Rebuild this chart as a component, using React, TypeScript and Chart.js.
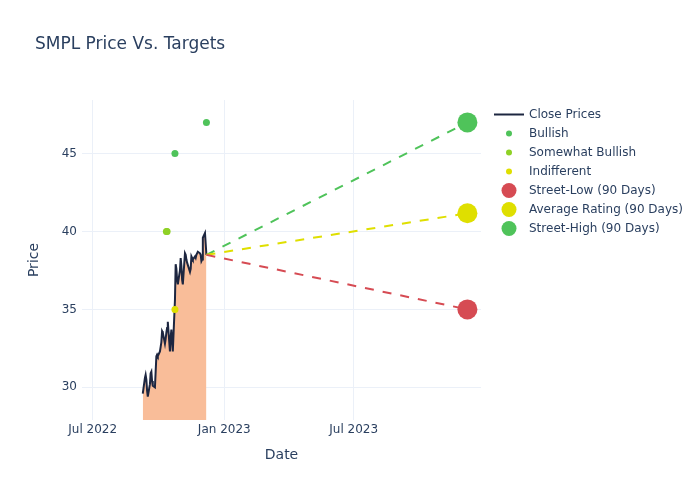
import { useEffect, useRef } from 'react';
import { Chart, registerables } from 'chart.js';
import type { Plugin } from 'chart.js';

Chart.register(...registerables);

// closing prices (trading days)
const closeDates = [
  '2022-09-09', '2022-09-12', '2022-09-13', '2022-09-14', '2022-09-15', '2022-09-16',
  '2022-09-19', '2022-09-20', '2022-09-21', '2022-09-22', '2022-09-23',
  '2022-09-26', '2022-09-27', '2022-09-28', '2022-09-29', '2022-09-30',
  '2022-10-03', '2022-10-04', '2022-10-05', '2022-10-06', '2022-10-07',
  '2022-10-10', '2022-10-11', '2022-10-12', '2022-10-13', '2022-10-14',
  '2022-10-17', '2022-10-18', '2022-10-19', '2022-10-20', '2022-10-21',
  '2022-10-24', '2022-10-25', '2022-10-26', '2022-10-27', '2022-10-28',
  '2022-10-31', '2022-11-01', '2022-11-02', '2022-11-03', '2022-11-04',
  '2022-11-07', '2022-11-08', '2022-11-09', '2022-11-10', '2022-11-11',
  '2022-11-14', '2022-11-15', '2022-11-16', '2022-11-17', '2022-11-18',
  '2022-11-21', '2022-11-22', '2022-11-23', '2022-11-25',
  '2022-11-28', '2022-11-29', '2022-11-30', '2022-12-01', '2022-12-02',
  '2022-12-05', '2022-12-06', '2022-12-07',
];
const closePrices = [
  29.6, 30.6, 30.8, 30.5, 29.8, 29.4,
  30.2, 30.9, 31.0, 30.4, 30.1,
  30.0, 31.0, 32.0, 32.1, 32.0,
  32.3, 32.6, 32.9, 33.6, 33.5,
  32.8, 33.1, 33.5, 33.8, 34.2,
  32.3, 33.2, 33.7, 33.0, 32.3,
  35.6, 37.9, 37.6, 36.9, 36.6,
  37.5, 38.3, 37.8, 36.9, 36.6,
  38.6, 38.5, 38.2, 38.0, 38.0,
  37.4, 37.6, 38.4, 38.3, 38.2,
  38.4, 38.3, 38.5, 38.7,
  38.6, 38.5, 38.1, 38.2, 39.6,
  39.9, 39.2, 38.5,
];

// analyst ratings
const bullishDates = ['2022-10-24', '2022-12-07'];
const bullishTargets = [45, 47];
const somewhatBullishDates = ['2022-10-12', '2022-10-13'];
const somewhatBullishTargets = [40, 40];
const indifferentDates = ['2022-10-24'];
const indifferentTargets = [35];

// 90 day street targets
const targetDate = '2023-12-07';
const streetLow = 35;
const averageRating = 41.17;
const streetHigh = 47;

const xTickDates = ['2022-07-01', '2023-01-01', '2023-07-01'];
const xTickLabels = ['Jul 2022', 'Jan 2023', 'Jul 2023'];
const yTicks = [30, 35, 40, 45];

const TEXT = '#2a3f5f';
const FONT = "'DejaVu Sans', sans-serif";
const GREEN = '#4fc35a';
const LIGHT_GREEN = '#8fd126';
const YELLOW = '#dfdf00';
const RED = '#d64b53';
const ORANGE_FILL = '#f9bd99';
const NAVY = '#1d2640';

const toMs = (d: string) => Date.parse(d + 'T00:00:00Z');

type LegendItem = { label: string; kind: 'line' | 'dot'; color: string; r: number };
const legendItems: LegendItem[] = [
  { label: 'Close Prices', kind: 'line', color: NAVY, r: 0 },
  { label: 'Bullish', kind: 'dot', color: GREEN, r: 3 },
  { label: 'Somewhat Bullish', kind: 'dot', color: LIGHT_GREEN, r: 3 },
  { label: 'Indifferent', kind: 'dot', color: YELLOW, r: 3 },
  { label: 'Street-Low (90 Days)', kind: 'dot', color: RED, r: 7.5 },
  { label: 'Average Rating (90 Days)', kind: 'dot', color: YELLOW, r: 7.5 },
  { label: 'Street-High (90 Days)', kind: 'dot', color: GREEN, r: 7.5 },
];

// title and legend drawn at fixed spots, like the plotly layout
const decorPlugin: Plugin = {
  id: 'decor',
  afterDraw(chart) {
    const ctx = chart.ctx;
    ctx.save();
    ctx.fillStyle = TEXT;
    ctx.textBaseline = 'middle';
    ctx.textAlign = 'left';
    ctx.font = `17px ${FONT}`;
    ctx.fillText('SMPL Price Vs. Targets', 35, 45);

    ctx.font = `12px ${FONT}`;
    legendItems.forEach((item, i) => {
      const y = 114.5 + i * 19;
      if (item.kind === 'line') {
        ctx.strokeStyle = item.color;
        ctx.lineWidth = 2;
        ctx.beginPath();
        ctx.moveTo(494, y);
        ctx.lineTo(524, y);
        ctx.stroke();
      } else {
        ctx.fillStyle = item.color;
        ctx.beginPath();
        ctx.arc(509, y, item.r, 0, Math.PI * 2);
        ctx.fill();
      }
      ctx.fillStyle = TEXT;
      ctx.fillText(item.label, 529, y);
    });
    ctx.restore();
  },
};

export default function App() {
  const canvasRef = useRef<HTMLCanvasElement>(null);

  useEffect(() => {
    if (!canvasRef.current) return;
    document.body.style.margin = '0';

    const closeData = closeDates.map((d, i) => ({ x: toMs(d), y: closePrices[i] }));
    const last = closeData[closeData.length - 1];
    const tx = toMs(targetDate);
    const pts = (dates: string[], vals: number[]) => dates.map((d, i) => ({ x: toMs(d), y: vals[i] }));

    const dashed = (color: string, target: number) => ({
      data: [{ x: last.x, y: last.y }, { x: tx, y: target }],
      showLine: true,
      borderColor: color,
      borderWidth: 2,
      borderDash: [9, 9],
      pointRadius: 0,
      order: 3,
    });
    const bigDot = (color: string, target: number) => ({
      data: [{ x: tx, y: target }],
      backgroundColor: color,
      borderWidth: 0,
      pointRadius: 10,
      order: 1,
    });
    const smallDot = (color: string, dates: string[], vals: number[]) => ({
      data: pts(dates, vals),
      backgroundColor: color,
      borderWidth: 0,
      pointRadius: 3.5,
      order: 5,
    });

    const chart = new Chart(canvasRef.current, {
      type: 'scatter',
      data: {
        datasets: [
          {
            label: 'Close Prices',
            data: closeData,
            showLine: true,
            borderColor: NAVY,
            borderWidth: 2,
            backgroundColor: ORANGE_FILL,
            fill: 'start',
            pointRadius: 0,
            order: 10,
          },
          { label: 'Bullish', ...smallDot(GREEN, bullishDates, bullishTargets) },
          { label: 'Somewhat Bullish', ...smallDot(LIGHT_GREEN, somewhatBullishDates, somewhatBullishTargets) },
          { label: 'Indifferent', ...smallDot(YELLOW, indifferentDates, indifferentTargets) },
          { label: 'low line', ...dashed(RED, streetLow) },
          { label: 'avg line', ...dashed(YELLOW, averageRating) },
          { label: 'high line', ...dashed(GREEN, streetHigh) },
          { label: 'Street-Low (90 Days)', ...bigDot(RED, streetLow) },
          { label: 'Average Rating (90 Days)', ...bigDot(YELLOW, averageRating) },
          { label: 'Street-High (90 Days)', ...bigDot(GREEN, streetHigh) },
        ] as any,
      },
      options: {
        animation: false,
        responsive: true,
        maintainAspectRatio: false,
        layout: { padding: { top: 100, right: 219, left: 0, bottom: 0 } },
        plugins: {
          legend: { display: false },
          title: { display: false },
          tooltip: { enabled: false },
        },
        scales: {
          x: {
            type: 'linear',
            min: toMs('2022-06-16'),
            max: toMs('2023-12-26'),
            afterBuildTicks: (s: any) => {
              s.ticks = xTickDates.map(d => ({ value: toMs(d) }));
            },
            afterFit: (s: any) => {
              s.height = 80;
            },
            grid: { color: '#ebf0f8', lineWidth: 1, drawTicks: false },
            border: { display: false },
            ticks: {
              color: TEXT,
              font: { family: FONT, size: 12 },
              padding: 3,
              maxRotation: 0,
              callback: (_v: any, i: number) => xTickLabels[i],
            },
            title: {
              display: true,
              text: 'Date',
              color: TEXT,
              font: { family: FONT, size: 14 },
              padding: { top: 0, bottom: 36 },
            },
          },
          y: {
            type: 'linear',
            min: 27.9,
            max: 48.44,
            afterBuildTicks: (s: any) => {
              s.ticks = yTicks.map(v => ({ value: v }));
            },
            afterFit: (s: any) => {
              s.width = 82;
            },
            grid: { color: '#ebf0f8', lineWidth: 1, drawTicks: false },
            border: { display: false },
            ticks: {
              color: TEXT,
              font: { family: FONT, size: 12 },
              padding: 5,
            },
            title: {
              display: true,
              text: 'Price',
              color: TEXT,
              font: { family: FONT, size: 14 },
              padding: { top: 26, bottom: 0 },
            },
          },
        },
      },
      plugins: [decorPlugin],
    });

    return () => chart.destroy();
  }, []);

  return (
    <div style={{ position: 'fixed', left: 0, top: 0, width: 700, height: 500, background: '#fff' }}>
      <canvas ref={canvasRef} />
    </div>
  );
}
